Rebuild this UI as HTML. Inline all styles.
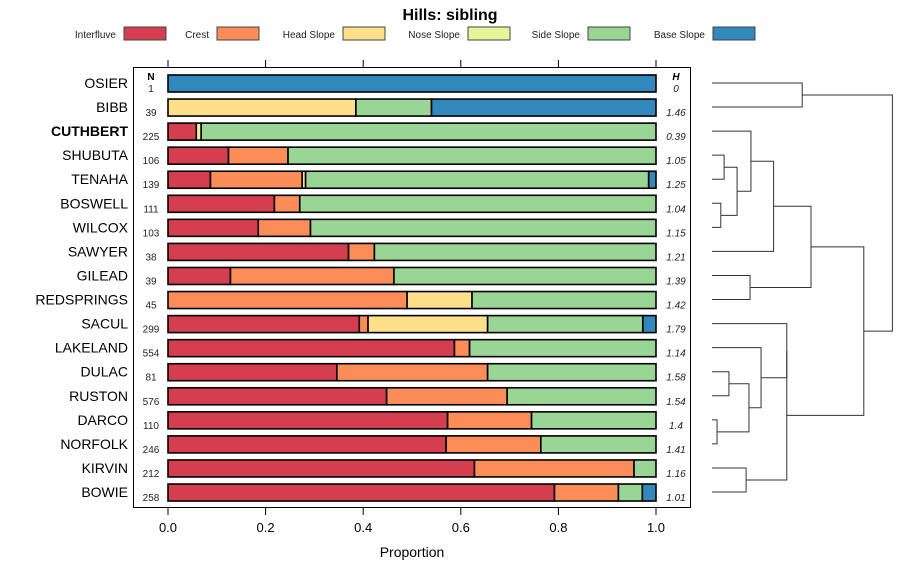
<!DOCTYPE html>
<html><head><meta charset="utf-8"><style>
body{margin:0;background:#fff;font-family:"Liberation Sans",sans-serif}
svg text{font-family:"Liberation Sans",sans-serif}
</style></head><body>
<svg id="c" width="900" height="580" xmlns="http://www.w3.org/2000/svg"></svg>
<script>
const categories=["OSIER","BIBB","CUTHBERT","SHUBUTA","TENAHA","BOSWELL","WILCOX","SAWYER","GILEAD","REDSPRINGS","SACUL","LAKELAND","DULAC","RUSTON","DARCO","NORFOLK","KIRVIN","BOWIE"];
const seriesNames=["Interfluve","Crest","Head Slope","Nose Slope","Side Slope","Base Slope"];
const colors=["#D53E4F","#FC8D59","#FEE08B","#E6F598","#99D594","#3288BD"];
const interfluve=[0,0,0.058,0.124,0.087,0.218,0.185,0.37,0.128,0,0.392,0.587,0.346,0.448,0.573,0.57,0.628,0.792];
const crest=[0,0,0,0.122,0.188,0.052,0.107,0.053,0.335,0.49,0.018,0.031,0.309,0.247,0.172,0.194,0.327,0.131];
const headSlope=[0,0.385,0,0,0.007,0,0,0,0,0.133,0.245,0,0,0,0,0,0,0];
const noseSlope=[0,0,0.01,0,0,0,0,0,0,0,0,0,0,0,0,0,0,0];
const sideSlope=[0,0.155,0.932,0.754,0.703,0.73,0.708,0.577,0.537,0.377,0.318,0.382,0.345,0.305,0.255,0.236,0.045,0.049];
const baseSlope=[1,0.46,0,0,0.015,0,0,0,0,0,0.027,0,0,0,0,0,0,0.028];
const nValues=[1,39,225,106,139,111,103,38,39,45,299,554,81,576,110,246,212,258];
const hValues=["0","1.46","0.39","1.05","1.25","1.04","1.15","1.21","1.39","1.42","1.79","1.14","1.58","1.54","1.4","1.41","1.16","1.01"];
const xTicks=[0,0.2,0.4,0.6,0.8,1.0];
// dendrogram merges: [leftNode,rightNode,height]; leaves are 0..17, internal nodes 18+
const merges=[[0,1,0.41],[3,4,0.055],[5,6,0.04],[19,20,0.114],[2,21,0.177],[22,7,0.28],[8,9,0.173],[23,24,0.45],[12,13,0.077],[14,15,0.023],[26,27,0.168],[11,28,0.223],[16,17,0.155],[10,29,0.34],[31,30,0.34],[25,32,0.69],[18,33,0.82]];
const S=document.getElementById('c'),NS="http://www.w3.org/2000/svg";
function mk(t,a,p){const e=document.createElementNS(NS,t);for(const k in a)e.setAttribute(k,a[k]);(p||S).appendChild(e);return e;}
const X=v=>168+v*488, Y=i=>83+i*24.06, DX=h=>712+h*220;
const series=[interfluve,crest,headSlope,noseSlope,sideSlope,baseSlope];
let t=mk('text',{x:450,y:20,'text-anchor':'middle','font-size':16,'font-weight':'bold'});t.textContent="Hills: sibling";

const legX=[124,217,343,468,588,713];
seriesNames.forEach((n,k)=>{const g=mk('g',{});

const tx=mk('text',{x:legX[k]-8,y:38,'text-anchor':'end','font-size':10,fill:'#222'},g);tx.textContent=n;
mk('rect',{x:legX[k],y:27,width:42,height:13,fill:colors[k],stroke:'#444','stroke-width':1},g);});
const panel=mk('rect',{x:133.5,y:67.5,width:557,height:440,fill:'none',stroke:'#000','stroke-width':1});

xTicks.forEach(v=>{mk('line',{x1:X(v),x2:X(v),y1:60,y2:67,stroke:'#000'});mk('line',{x1:X(v),x2:X(v),y1:508,y2:515,stroke:'#000'});
const l=mk('text',{x:X(v),y:532,'text-anchor':'middle','font-size':13});l.textContent=v.toFixed(1);
});
const xt=mk('text',{x:412,y:557,'text-anchor':'middle','font-size':14});xt.textContent="Proportion";

let hN=mk('text',{x:151,y:80,'text-anchor':'middle','font-size':10,'font-weight':'bold'});hN.textContent="N";
let hH=mk('text',{x:676,y:80,'text-anchor':'middle','font-size':10,'font-weight':'bold','font-style':'italic'});hH.textContent="H";
categories.forEach((c,i)=>{const y=Y(i);
const l=mk('text',{x:128,y:y+5,'text-anchor':'end','font-size':14,'font-weight':c==="CUTHBERT"?'bold':'normal'});l.textContent=c;

const n=mk('text',{x:151,y:y+9,'text-anchor':'middle','font-size':10,fill:'#222'});n.textContent=nValues[i];

const h=mk('text',{x:676,y:y+9,'text-anchor':'middle','font-size':10,'font-style':'italic',fill:'#222'});h.textContent=hValues[i];

let cum=0;series.forEach((s,k)=>{const v=s[i];if(v>0){const r=mk('rect',{x:X(cum),y:y-8,width:X(cum+v)-X(cum),height:17,fill:colors[k],stroke:'#000','stroke-width':1.6});
}cum+=v;});});
const pos={};categories.forEach((c,i)=>pos[i]={y:Y(i),h:0});
merges.forEach((m,j)=>{const a=pos[m[0]],b=pos[m[1]],hx=DX(m[2]);
const p=mk('path',{d:`M${DX(a.h)},${a.y}H${hx}V${b.y}H${DX(b.h)}`,fill:'none',stroke:'#333','stroke-width':1});

pos[18+j]={y:(a.y+b.y)/2,h:m[2]};});
</script></body></html>
